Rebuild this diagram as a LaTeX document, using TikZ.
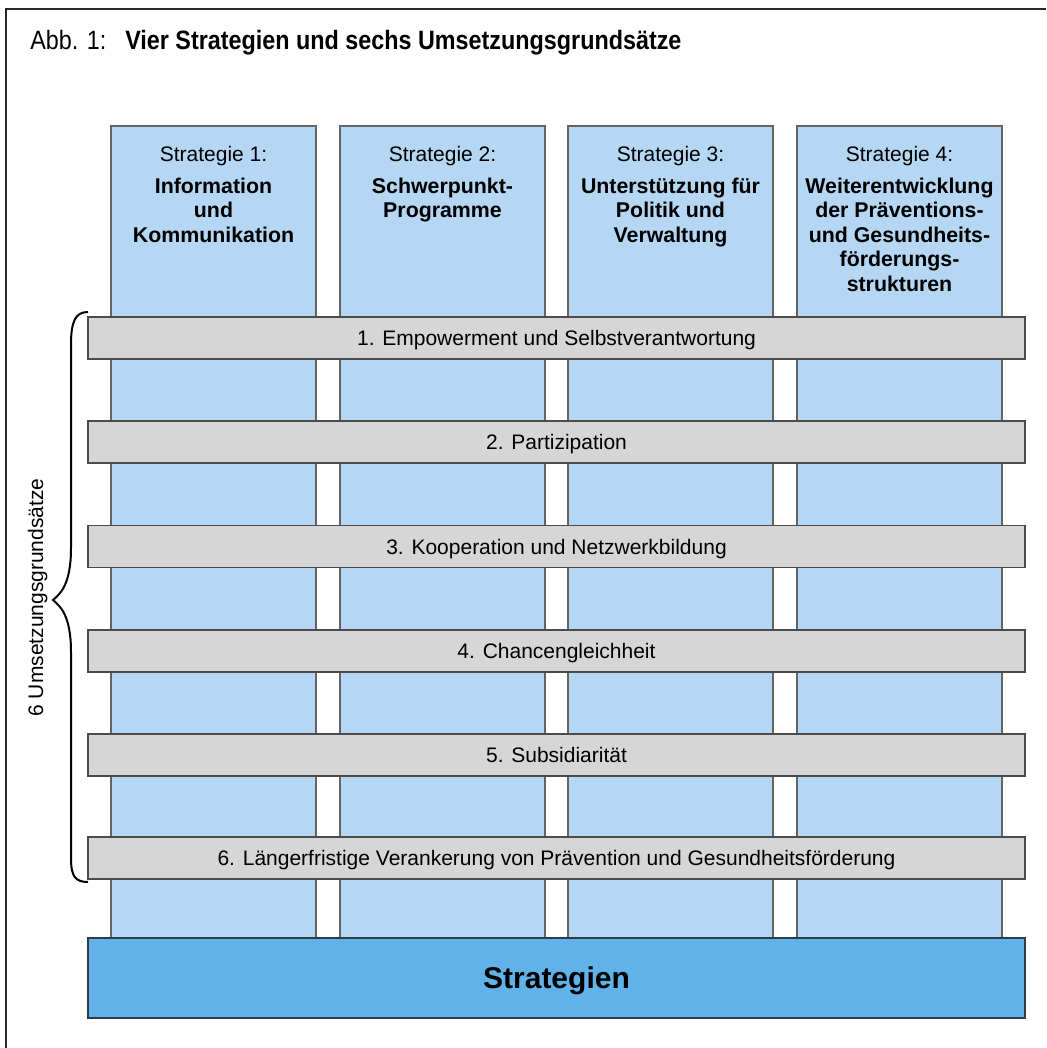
\documentclass[tikz,border=0pt]{standalone}
\usepackage{fontspec}
\setmainfont{Liberation Sans}
\newfontfamily\titlefont[FakeStretch=0.88]{Liberation Sans}
\definecolor{colfill}{RGB}{181,215,243}
\definecolor{colborder}{RGB}{100,100,100}
\definecolor{barfill}{RGB}{214,214,214}
\definecolor{barborder}{RGB}{75,75,75}
\definecolor{basefill}{RGB}{98,178,234}
\definecolor{baseborder}{RGB}{50,60,70}
\definecolor{framecol}{RGB}{40,40,40}
\begin{document}
\begin{tikzpicture}[x=0.75pt,y=-0.75pt,
  col/.style={draw=colborder, fill=colfill, line width=0.9pt, minimum width=153.75pt, minimum height=609pt, inner sep=0pt, outer sep=0pt},
  bar/.style={draw=barborder, fill=barfill, line width=0.9pt, minimum width=702.75pt, minimum height=31.5pt, inner sep=0pt, outer sep=0pt, font=\fontsize{15.75}{18}\selectfont, text height=11.3pt, text depth=0pt},
  basebox/.style={draw=baseborder, fill=basefill, line width=1pt, minimum width=702.75pt, minimum height=60pt, inner sep=0pt, outer sep=0pt, font=\fontsize{22.5}{26}\selectfont\bfseries, text height=16.1pt, text depth=0pt},
  headlabel/.style={anchor=north, inner sep=0pt, font=\fontsize{15.75}{18}\selectfont},
  headtext/.style={anchor=north, inner sep=0pt, align=center, font=\fontsize{16}{18.4}\selectfont\bfseries},
  sidelabel/.style={rotate=90, inner sep=0pt, font=\fontsize{15.75}{18}\selectfont, text height=11.3pt, text depth=0pt},
  bracepath/.style={line width=1.5pt, black}
]
\useasboundingbox (0,0) rectangle (1046,1048);
% frame
\draw[framecol, line width=1.2pt] (6,1048) -- (6,9) -- (1046,9);
% title
\node[anchor=base west, inner sep=0pt, font=\titlefont\fontsize{19.9}{22}\selectfont] (abb) at (30,50) {Abb. 1:};
\node[anchor=base west, inner sep=0pt, font=\titlefont\fontsize{19.9}{22}\selectfont\bfseries] (title) at (125,50) {Vier Strategien und sechs Umsetzungsgrundsätze};
% columns
\node[col] (c1) at (213.5,532) {};
\node[col] (c2) at (442.5,532) {};
\node[col] (c3) at (670.5,532) {};
\node[col] (c4) at (899.5,532) {};
% headers
\node[headlabel] (l1) at (213.5,146) {Strategie 1:};
\node[headlabel] (l2) at (442.5,146) {Strategie 2:};
\node[headlabel] (l3) at (670.5,146) {Strategie 3:};
\node[headlabel] (l4) at (899.5,146) {Strategie 4:};
\node[headtext] (t1) at (213.5,177.5) {Information\\und\\Kommunikation};
\node[headtext] (t2) at (442.5,177.5) {Schwerpunkt-\\Programme};
\node[headtext] (t3) at (670.5,177.5) {Unterstützung für\\Politik und\\Verwaltung};
\node[headtext] (t4) at (899.5,177.5) {Weiterentwicklung\\der Präventions-\\und Gesundheits-\\förderungs-\\strukturen};
% bars
\node[bar] (b1) at (556.5,338) {1. Empowerment und Selbstverantwortung};
\node[bar] (b2) at (556.5,442) {2. Partizipation};
\node[bar] (b3) at (556.5,546.5) {3. Kooperation und Netzwerkbildung};
\node[bar] (b4) at (556.5,651) {4. Chancengleichheit};
\node[bar] (b5) at (556.5,755) {5. Subsidiarität};
\node[bar] (b6) at (556.5,858) {6. Längerfristige Verankerung von Prävention und Gesundheitsförderung};
% base
\node[basebox] (strat) at (556.5,978) {Strategien};
% brace
\coordinate (bt) at (88,312);
\coordinate (bb) at (88,882);
\coordinate (tip) at (53,600);
\draw[bracepath] (bt) .. controls (75,312) and (71,322) .. (71,345)
  -- (71,548) .. controls (71,585) and (60,594) .. (tip)
  .. controls (60,606) and (71,615) .. (71,652)
  -- (71,858) .. controls (71,876) and (75,882) .. (bb);
\node[sidelabel] (side) at (35.5,597.5) {6 Umsetzungsgrundsätze};
\end{tikzpicture}
\end{document}
